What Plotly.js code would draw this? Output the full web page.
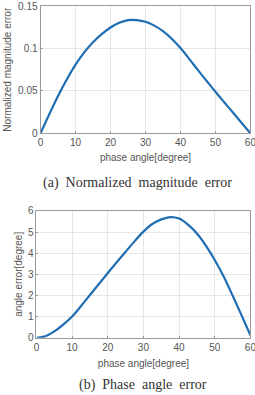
<!DOCTYPE html>
<html>
<head>
<meta charset="utf-8">
<script src="https://cdn.plot.ly/plotly-3.0.1.min.js"></script>
<style>
  html, body { margin: 0; padding: 0; background: #fff; }
  #chart { width: 255px; height: 395px; }
</style>
</head>
<body>
<div id="chart"></div>
<script>
// Phase angle samples (degrees) and the two error curves
const phase = [0, 2.5, 5, 7.5, 10, 12.5, 15, 17.5, 20, 22.5, 25, 27.5, 30, 32.5, 35, 37.5, 40, 42.5, 45, 47.5, 50, 52.5, 55, 57.5, 60];
const magError = [0, 0.0225, 0.044, 0.0635, 0.081, 0.0955, 0.1075, 0.117, 0.1248, 0.1303, 0.1335, 0.1335, 0.1315, 0.127, 0.1205, 0.1115, 0.1005, 0.0878, 0.0745, 0.0617, 0.049, 0.0367, 0.0245, 0.0122, 0];
const angError = [0, 0.07, 0.3, 0.62, 1.0, 1.5, 2.02, 2.54, 3.06, 3.57, 4.07, 4.56, 5.02, 5.38, 5.6, 5.71, 5.64, 5.35, 4.93, 4.36, 3.68, 2.9, 2.0, 1.07, 0.12];

const xTicks = [0, 10, 20, 30, 40, 50, 60];
const magTicks = [0, 0.05, 0.1, 0.15];
const magTickText = ['0', '0.05', '0.1', '0.15'];
const angTicks = [0, 1, 2, 3, 4, 5, 6];

const xTitle = 'phase angle[degree]';
const magTitle = 'Normalized magnitude error';
const angTitle = 'angle error[degree]';
const captionA = '(a)\u00a0\u00a0Normalized\u00a0\u00a0magnitude\u00a0\u00a0error';
const captionB = '(b)\u00a0\u00a0Phase\u00a0\u00a0angle\u00a0\u00a0error';

const lineColor = '#1f6db3';
const sans = 'Liberation Sans, Arial, sans-serif';
const tickFont = { family: sans, size: 10, color: '#555' };
const titleFont = { family: sans, size: 10, color: '#555' };
const captionFont = { family: 'Liberation Serif, Times New Roman, serif', size: 14, color: '#333' };

function axisBase(extra) {
  return Object.assign({
    showline: true, mirror: true, linecolor: '#9a9a9a', linewidth: 1,
    showgrid: true, gridcolor: '#e6e6e6', gridwidth: 1,
    zeroline: false, ticks: 'inside', ticklen: 2, tickcolor: '#9a9a9a',
    tickfont: tickFont, ticklabeloverflow: 'allow', fixedrange: true
  }, extra);
}

const traces = [
  { x: phase, y: magError, type: 'scatter', mode: 'lines',
    line: { color: lineColor, width: 2.2, shape: 'spline', smoothing: 1 },
    xaxis: 'x', yaxis: 'y', hoverinfo: 'skip' },
  { x: phase, y: angError, type: 'scatter', mode: 'lines',
    line: { color: lineColor, width: 2.2, shape: 'spline', smoothing: 1 },
    xaxis: 'x2', yaxis: 'y2', hoverinfo: 'skip' }
];

const layout = {
  width: 255, height: 395, autosize: false,
  margin: { l: 0, r: 0, t: 0, b: 0 },
  paper_bgcolor: '#fff', plot_bgcolor: '#fff',
  showlegend: false,
  xaxis: axisBase({ domain: [0.159, 0.982], range: [0, 60], tickvals: xTicks, anchor: 'y',
    title: { text: xTitle, font: titleFont, standoff: 6 } }),
  yaxis: axisBase({ domain: [0.6625, 0.9845], range: [0, 0.15], tickvals: magTicks, ticktext: magTickText, anchor: 'x',
    title: { text: magTitle, font: titleFont, standoff: 4 } }),
  xaxis2: axisBase({ domain: [0.143, 0.982], range: [0, 60], tickvals: xTicks, anchor: 'y2',
    title: { text: xTitle, font: titleFont, standoff: 8 } }),
  yaxis2: axisBase({ domain: [0.145, 0.466], range: [0, 6], tickvals: angTicks, anchor: 'x2',
    title: { text: angTitle, font: titleFont, standoff: 3 } }),
  annotations: [
    { text: captionA, xref: 'paper', yref: 'paper',
      x: 137 / 255, y: 1 - 183 / 395, xanchor: 'center', yanchor: 'middle', showarrow: false, font: captionFont },
    { text: captionB, xref: 'paper', yref: 'paper',
      x: 142.5 / 255, y: 1 - 385 / 395, xanchor: 'center', yanchor: 'middle', showarrow: false, font: captionFont }
  ]
};

Plotly.newPlot('chart', traces, layout, { staticPlot: true, displayModeBar: false });
</script>
</body>
</html>
